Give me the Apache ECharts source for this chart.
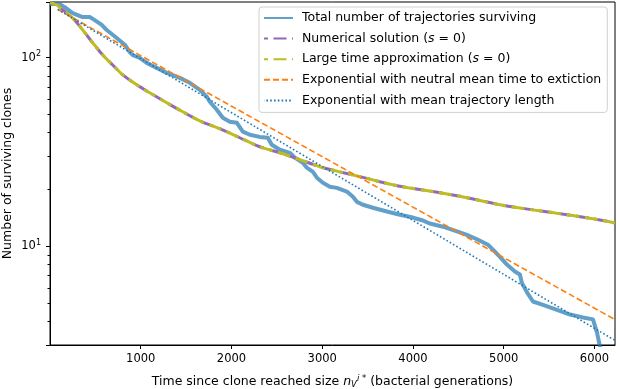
<!DOCTYPE html>
<html>
<head>
<meta charset="utf-8">
<script src="https://cdn.jsdelivr.net/npm/echarts@6/dist/echarts.min.js"></script>
<style>
  html, body { margin: 0; padding: 0; background: #fff; }
  #chart { width: 617px; height: 389px; }
</style>
</head>
<body>
<div id="chart"></div>
<script>
// surviving clones
const totalTime = [
  0, 107, 162, 250, 360, 438, 493, 570, 625, 735,
  824, 879, 912, 989, 1066, 1176, 1287, 1430, 1540, 1651,
  1728, 1761, 1838, 1904, 1982, 2059, 2125, 2202, 2312, 2400,
  2444, 2533, 2643, 2698, 2786, 2830, 2897, 2941, 3007, 3084,
  3161, 3271, 3338, 3382, 3448, 3558, 3713, 3856, 3999, 4109,
  4187, 4330, 4484, 4594, 4705, 4826, 4881, 4958, 5035, 5123,
  5178, 5200, 5256, 5322, 5432, 5587, 5730, 5873, 5983, 6027,
  6060, 6100
];
const totalCount = [
  192, 192, 185, 172, 164, 164, 158, 149, 140, 127,
  117, 107, 103, 99.6, 93.7, 88.2, 83, 78.1, 73.5, 67.5,
  62, 58.3, 52.9, 48, 45.7, 45.1, 40.5, 39, 38, 37.6,
  34.5, 32.5, 31.3, 29.5, 27.7, 26.1, 24.8, 23.1, 21.7, 20.7,
  20.4, 19.5, 18.3, 17.2, 16.6, 16, 15.3, 14.7, 14.2, 13.7,
  13.2, 12.7, 12, 11.5, 10.9, 10.2, 9.6, 8.8, 8, 7.35,
  7.1, 6.4, 5.7, 5.1, 4.9, 4.6, 4.35, 4.2, 4.1, 3.5,
  2.95, 2.7
];

// s = 0 theory (numerical solution and large time approximation overlap)
const theoryTime = [
  0, 74, 140, 250, 361, 471, 581, 691, 802, 956,
  1099, 1287, 1463, 1651, 1871, 2092, 2312, 2533, 2753, 2974,
  3194, 3415, 3635, 3856, 4219, 4594, 4958, 5322, 5697, 6060,
  6226
];
const numericalCount = [
  195, 190, 179, 162, 140, 119.7, 103.3, 91.4, 80.9, 71.7,
  65.1, 57.6, 51.6, 46.2, 42, 37.6, 33.7, 31.3, 28.8, 26.4,
  24.8, 23.4, 22, 20.8, 19.5, 18.1, 16.6, 15.6, 14.7, 13.8,
  13.3
];
const largeTimeCount = numericalCount.slice();

// exponential fits
const expTime = [85, 6226];
const neutralCount = [180, 4.09];
const meanLengthCount = [180, 3.17];

const xTicks = [1000, 2000, 3000, 4000, 5000, 6000];

const FONT = 'DejaVu Sans';
const zip = (xs, ys) => xs.map((x, i) => [x, ys[i]]);

const chart = echarts.init(document.getElementById('chart'));

const supLabel = v => '10{sup|' + Math.round(Math.log10(v)) + '}';

const lineSeries = (name, xs, ys, lineStyle, extra) => Object.assign({
  name: name,
  type: 'line',
  showSymbol: false,
  symbol: 'none',
  data: zip(xs, ys),
  lineStyle: lineStyle,
  itemStyle: { color: lineStyle.color, opacity: 0 },
  emphasis: { disabled: true }
}, extra || {});

const option = {
  animation: false,
  backgroundColor: '#fff',
  textStyle: { fontFamily: FONT },
  grid: {
    left: 50, right: 2, top: 2, bottom: 44,
    outerBoundsMode: 'none',
    containLabel: false,
    show: true, borderColor: '#000', borderWidth: 1
  },
  legend: {
    orient: 'vertical',
    left: 259,
    top: 7,
    padding: [4.5, 6, 5.5, 4],
    itemWidth: 29,
    itemHeight: 15,
    itemGap: 7.6,
    backgroundColor: 'rgba(255,255,255,0.85)',
    borderColor: '#d0d0d0',
    borderWidth: 1,
    borderRadius: 3,
    itemStyle: { opacity: 0 },
    textStyle: {
      fontFamily: FONT, fontSize: 12.5, color: '#000', padding: [0, 0, 0, 4],
      rich: { it: { fontFamily: FONT, fontSize: 12.5, fontStyle: 'italic', color: '#000' } }
    },
    data: [
      'Total number of trajectories surviving',
      'Numerical solution ({it|s} = 0)',
      'Large time approximation ({it|s} = 0)',
      'Exponential with neutral mean time to extiction',
      'Exponential with mean trajectory length'
    ]
  },
  xAxis: {
    type: 'value',
    min: 0,
    max: 6226,
    interval: 1000,
    name: 'Time since clone reached size {it|n}{sub|V}{sup|i *} (bacterial generations)',
    nameLocation: 'middle',
    nameGap: 29,
    nameTextStyle: {
      fontFamily: FONT, fontSize: 12.5, color: '#000',
      rich: {
        it: { fontFamily: FONT, fontSize: 12.5, fontStyle: 'italic', color: '#000' },
        sub: { fontFamily: FONT, fontSize: 8.5, fontStyle: 'italic', color: '#000', verticalAlign: 'bottom', padding: [6, 0, 0, 0] },
        sup: { fontFamily: FONT, fontSize: 8.5, fontStyle: 'italic', color: '#000', verticalAlign: 'top', padding: [0, 0, 6, 0] }
      }
    },
    splitLine: { show: false },
    axisLine: { lineStyle: { color: '#000', width: 1 } },
    axisTick: { length: 4, lineStyle: { color: '#000' } },
    axisLabel: {
      showMinLabel: false,
      showMaxLabel: false,
      fontFamily: FONT, fontSize: 11.5, color: '#000', margin: 8,
      formatter: v => (xTicks.indexOf(v) >= 0 ? String(v) : '')
    }
  },
  yAxis: {
    type: 'log',
    logBase: 10,
    min: 3,
    max: 197,
    name: 'Number of surviving clones',
    nameLocation: 'middle',
    nameGap: 36,
    nameMoveOverlap: false,
    nameTextStyle: { fontFamily: FONT, fontSize: 12.5, color: '#000' },
    splitLine: { show: false },
    axisLine: { lineStyle: { color: '#000', width: 1 } },
    axisTick: { length: 4, lineStyle: { color: '#000' } },
    minorTick: { show: true, splitNumber: 9, length: 2.5, lineStyle: { color: '#000' } },
    minorSplitLine: { show: false },
    axisLabel: {
      showMinLabel: false,
      showMaxLabel: false,
      fontFamily: FONT, fontSize: 11.5, color: '#000', margin: 9,
      formatter: v => (v === 10 || v === 100 ? supLabel(v) : ''),
      rich: {
        sup: { fontFamily: FONT, fontSize: 8, color: '#000', verticalAlign: 'top', padding: [0, 0, 7, 0] }
      }
    }
  },
  series: [
    lineSeries('Total number of trajectories surviving', totalTime, totalCount,
      { color: 'rgba(31,119,180,0.7)', width: 4, join: 'round' }),
    lineSeries('Numerical solution ({it|s} = 0)', theoryTime, numericalCount,
      { color: '#9467bd', width: 3, type: [13, 5.5], dashOffset: 9 }, { smooth: 0.3 }),
    lineSeries('Large time approximation ({it|s} = 0)', theoryTime, largeTimeCount,
      { color: '#bcbd22', width: 3, type: [13, 5.5] }, { smooth: 0.3 }),
    lineSeries('Exponential with neutral mean time to extiction', expTime, neutralCount,
      { color: '#ff7f0e', width: 1.6, type: [6, 3] }),
    lineSeries('Exponential with mean trajectory length', expTime, meanLengthCount,
      { color: '#1f77b4', width: 1.6, type: [1.6, 2.2] })
  ]
};

chart.setOption(option);
</script>
</body>
</html>
